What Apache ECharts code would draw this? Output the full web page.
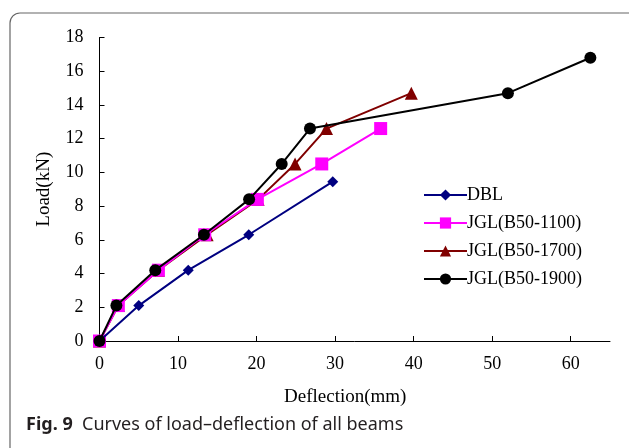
<!DOCTYPE html>
<html>
<head>
<meta charset="utf-8">
<script src="https://cdn.jsdelivr.net/npm/echarts@6/dist/echarts.min.js"></script>
<style>
html, body { margin: 0; padding: 0; background: #fff; }
#chart { width: 629px; height: 448px; }
</style>
</head>
<body>
<div id="chart"></div>
<script>
// 荷载-挠度曲线数据 (deflection mm, load kN)
var seriesNames = ['DBL', 'JGL(B50-1100)', 'JGL(B50-1700)', 'JGL(B50-1900)'];
var dblData = [[0, 0], [5, 2.1], [11.3, 4.2], [19, 6.3], [29.7, 9.45]];
var jgl1100Data = [[0, 0], [2.4, 2.1], [7.5, 4.2], [13.4, 6.3], [20.1, 8.4], [28.3, 10.5], [35.8, 12.6]];
var jgl1700Data = [[0, 0], [2.4, 2.1], [7.5, 4.2], [13.7, 6.3], [20.2, 8.4], [24.9, 10.5], [28.9, 12.6], [39.7, 14.7]];
var jgl1900Data = [[0, 0], [2.15, 2.1], [7.1, 4.2], [13.3, 6.3], [19.05, 8.4], [23.2, 10.5], [26.8, 12.6], [52, 14.7], [62.5, 16.8]];
var xTicks = [0, 10, 20, 30, 40, 50, 60];
var yTicks = [0, 2, 4, 6, 8, 10, 12, 14, 16, 18];

var colors = ['#000080', '#ff00ff', '#800000', '#000000'];
var symbols = ['diamond', 'rect', 'triangle', 'circle'];
var symbolSizes = [11, 13, 13, 12];
var allData = [dblData, jgl1100Data, jgl1700Data, jgl1900Data];

var serif = '"Liberation Serif", "Times New Roman", serif';

var chart = echarts.init(document.getElementById('chart'));

var SeriesTotal = [];
for (var k = 0; k < seriesNames.length; k++) {
	SeriesTotal.push({
		name: seriesNames[k],
		type: 'line',
		data: allData[k],
		symbol: symbols[k],
		symbolSize: symbolSizes[k],
		showAllSymbol: true,
		z: 10 - k,
		lineStyle: { color: colors[k], width: 2 },
		itemStyle: { color: colors[k] }
	});
}
// 黑线在最上层
SeriesTotal[3].z = 12;

var option = {
	animation: false,
	color: colors,
	grid: {
		left: 99.5,
		right: 19,
		top: 37.5,
		bottom: 107,
		containLabel: false
	},
	legend: {
		orient: 'vertical',
		left: 418,
		top: 181,
		itemWidth: 43,
		itemHeight: 14,
		itemGap: 10,
		textStyle: { fontFamily: serif, fontSize: 18, color: '#000', padding: [0, 0, 0, -5] },
		data: seriesNames
	},
	xAxis: {
		type: 'value',
		min: 0,
		max: 65,
		name: 'Deflection(mm)',
		nameLocation: 'middle',
		nameGap: 47,
		nameTextStyle: { fontFamily: serif, fontSize: 19, color: '#000', padding: [0, 19, 0, 0] },
		axisLine: { lineStyle: { color: '#000', width: 1 } },
		axisTick: { inside: true, length: 5, lineStyle: { color: '#000' }, customValues: xTicks },
		axisLabel: { fontFamily: serif, fontSize: 18, color: '#000', margin: 14, customValues: xTicks },
		splitLine: { show: false }
	},
	yAxis: {
		type: 'value',
		min: 0,
		max: 18,
		interval: 2,
		name: 'Load(kN)',
		nameLocation: 'middle',
		nameGap: 46,
		nameTextStyle: { fontFamily: serif, fontSize: 19, color: '#000' },
		axisLine: { show: true, lineStyle: { color: '#000', width: 1 } },
		axisTick: { show: true, inside: true, length: 5, lineStyle: { color: '#000' }, customValues: yTicks },
		axisLabel: { fontFamily: serif, fontSize: 18, color: '#000', margin: 16, customValues: yTicks },
		splitLine: { show: false }
	},
	graphic: [
		{
			type: 'rect',
			shape: { x: 10, y: 13, width: 640, height: 450, r: 10 },
			style: { fill: 'none', stroke: '#666', lineWidth: 1.2 },
			silent: true
		},
		{
			type: 'text',
			left: 26,
			top: 416,
			style: {
				text: '{b|Fig. 9}  Curves of load\u2013deflection of all beams',
				fill: '#231f20',
				font: '18px "Noto Sans", sans-serif',
				rich: {
					b: { fontWeight: 'bold', fontSize: 18, fontFamily: '"Noto Sans", sans-serif', fill: '#231f20' }
				}
			}
		}
	],
	series: SeriesTotal
};

chart.setOption(option);
</script>
</body>
</html>
